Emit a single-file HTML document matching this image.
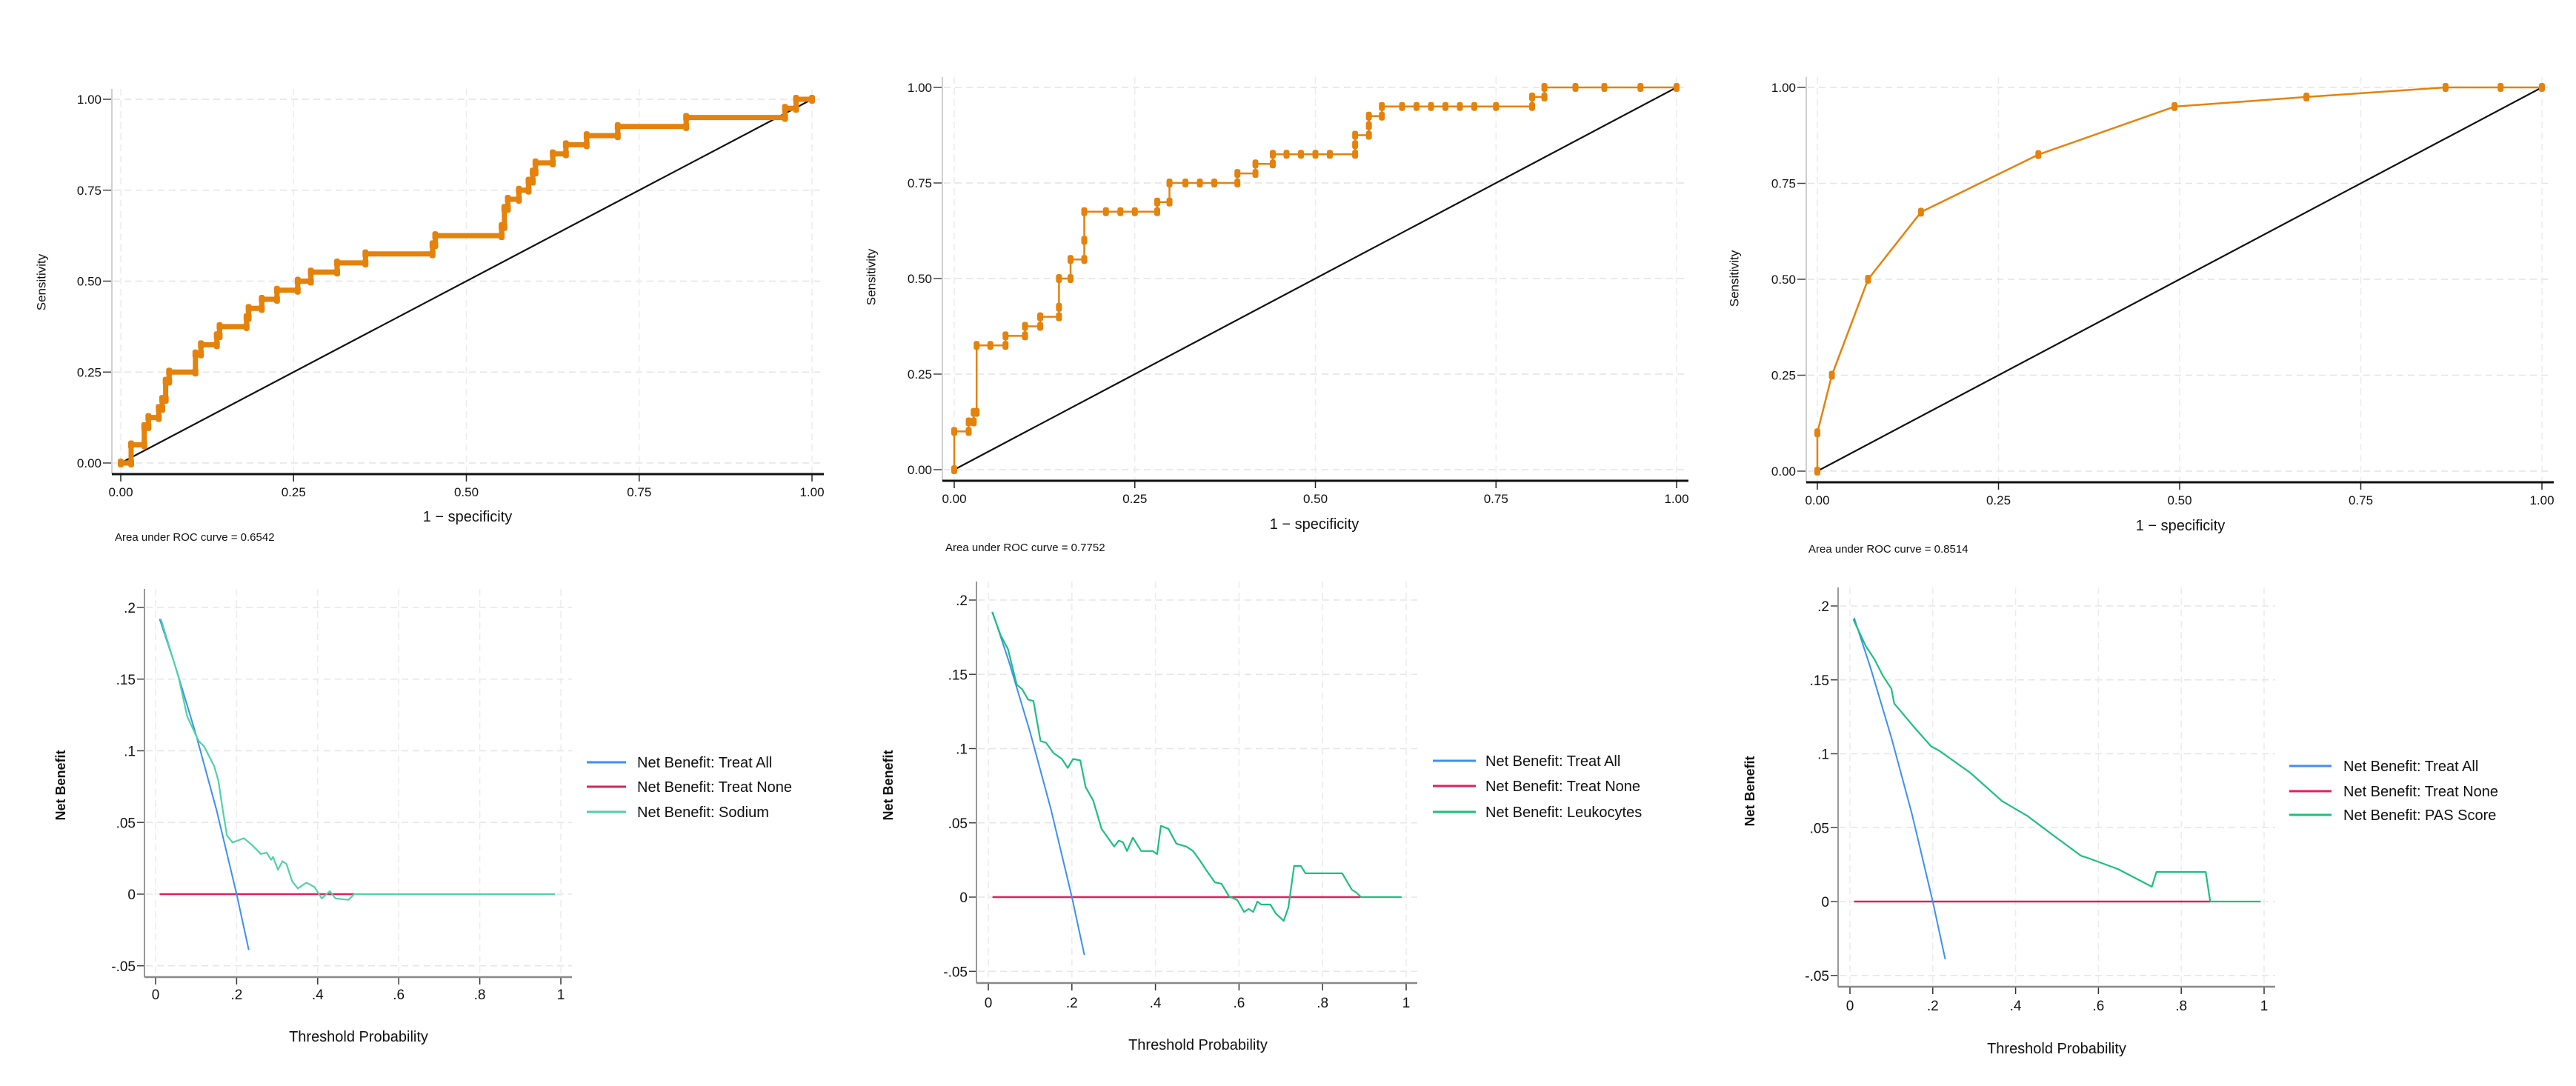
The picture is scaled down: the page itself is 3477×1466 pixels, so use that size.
<!DOCTYPE html>
<html><head><meta charset="utf-8">
<style>
html,body{margin:0;padding:0;background:#fff;}
svg{display:block;font-family:"Liberation Sans",sans-serif;}
</style></head>
<body>
<svg id="fig" width="3477" height="1466" viewBox="0 0 3477 1466" xmlns="http://www.w3.org/2000/svg"></svg>
<script>
// ---------- ROC data ----------
const roc1Fpr = [0,0.015,0.015,0.034,0.034,0.04,0.04,0.055,0.055,0.06,0.06,0.065,0.065,0.07,0.07,0.108,0.108,0.116,0.116,0.139,0.139,0.143,0.143,0.182,0.182,0.185,0.185,0.204,0.204,0.226,0.226,0.256,0.256,0.275,0.275,0.313,0.313,0.354,0.354,0.451,0.451,0.455,0.455,0.551,0.551,0.555,0.555,0.56,0.56,0.576,0.576,0.59,0.59,0.596,0.596,0.6,0.6,0.625,0.625,0.644,0.644,0.674,0.674,0.719,0.719,0.818,0.818,0.961,0.961,0.977,0.977,1];
const roc1Tpr = [0,0,0.05,0.05,0.1,0.1,0.125,0.125,0.15,0.15,0.175,0.175,0.225,0.225,0.25,0.25,0.3,0.3,0.325,0.325,0.35,0.35,0.375,0.375,0.4,0.4,0.425,0.425,0.45,0.45,0.475,0.475,0.5,0.5,0.525,0.525,0.55,0.55,0.575,0.575,0.6,0.6,0.625,0.625,0.65,0.65,0.7,0.7,0.725,0.725,0.75,0.75,0.775,0.775,0.8,0.8,0.825,0.825,0.85,0.85,0.875,0.875,0.9,0.9,0.925,0.925,0.95,0.95,0.975,0.975,1,1];
const roc2Fpr = [0,0,0.02,0.02,0.027,0.027,0.031,0.031,0.05,0.071,0.071,0.098,0.098,0.119,0.119,0.145,0.145,0.145,0.161,0.161,0.18,0.18,0.18,0.21,0.23,0.25,0.281,0.281,0.298,0.298,0.32,0.34,0.36,0.392,0.392,0.417,0.417,0.441,0.441,0.46,0.48,0.5,0.52,0.555,0.555,0.555,0.574,0.574,0.574,0.592,0.592,0.62,0.64,0.66,0.68,0.7,0.72,0.75,0.8,0.8,0.817,0.817,0.86,0.9,0.95,1];
const roc2Tpr = [0,0.1,0.1,0.125,0.125,0.15,0.15,0.325,0.325,0.325,0.35,0.35,0.375,0.375,0.4,0.4,0.425,0.5,0.5,0.55,0.55,0.6,0.675,0.675,0.675,0.675,0.675,0.7,0.7,0.75,0.75,0.75,0.75,0.75,0.775,0.775,0.8,0.8,0.825,0.825,0.825,0.825,0.825,0.825,0.85,0.875,0.875,0.9,0.925,0.925,0.95,0.95,0.95,0.95,0.95,0.95,0.95,0.95,0.95,0.975,0.975,1,1,1,1,1];
const roc3Fpr = [0,0,0.02,0.07,0.143,0.305,0.493,0.675,0.867,0.943,1];
const roc3Tpr = [0,0.1,0.25,0.5,0.675,0.825,0.95,0.975,1,1,1];
const rocTickLabels = ["0.00","0.25","0.50","0.75","1.00"];
const rocTickValues = [0,0.25,0.5,0.75,1];
const aucLabels = ["Area under ROC curve = 0.6542","Area under ROC curve = 0.7752","Area under ROC curve = 0.8514"];

// ---------- DCA data ----------
const treatAllT = [0.01,0.05,0.1,0.15,0.2,0.23];
const treatAllNB = [0.192,0.158,0.111,0.059,0,-0.039];
const treatNoneEnd = [0.49,0.89,0.87];
const dca1T = [0.013,0.057,0.078,0.106,0.12,0.145,0.155,0.165,0.176,0.19,0.218,0.239,0.26,0.274,0.285,0.29,0.302,0.313,0.323,0.337,0.351,0.372,0.392,0.41,0.43,0.444,0.476,0.49,0.986];
const dca1NB = [0.192,0.151,0.124,0.107,0.103,0.089,0.079,0.06,0.041,0.036,0.039,0.034,0.028,0.029,0.024,0.026,0.017,0.023,0.021,0.009,0.004,0.008,0.005,-0.003,0.002,-0.003,-0.004,0,0];
const dca2T = [0.009,0.03,0.047,0.068,0.081,0.095,0.108,0.125,0.138,0.156,0.176,0.19,0.203,0.22,0.233,0.251,0.271,0.301,0.312,0.322,0.332,0.346,0.366,0.393,0.404,0.413,0.431,0.45,0.474,0.49,0.508,0.522,0.542,0.558,0.576,0.596,0.612,0.623,0.634,0.644,0.653,0.675,0.688,0.707,0.718,0.732,0.748,0.759,0.847,0.87,0.881,0.892,0.989];
const dca2NB = [0.192,0.176,0.167,0.143,0.14,0.133,0.132,0.105,0.104,0.097,0.093,0.087,0.093,0.092,0.074,0.065,0.046,0.034,0.038,0.037,0.031,0.04,0.031,0.031,0.029,0.048,0.046,0.036,0.034,0.031,0.024,0.018,0.01,0.009,0.0005,-0.002,-0.01,-0.008,-0.01,-0.003,-0.005,-0.005,-0.011,-0.016,-0.007,0.021,0.021,0.016,0.016,0.005,0.003,0,0];
const dca3T = [0.008,0.038,0.059,0.079,0.1,0.107,0.155,0.196,0.216,0.291,0.367,0.428,0.49,0.558,0.579,0.647,0.729,0.74,0.859,0.87,0.992];
const dca3NB = [0.191,0.173,0.164,0.153,0.144,0.134,0.118,0.105,0.102,0.087,0.068,0.058,0.045,0.031,0.029,0.022,0.01,0.02,0.02,0,0];
const dcaXTickValues = [0,0.2,0.4,0.6,0.8,1];
const dcaXTickLabels = ["0",".2",".4",".6",".8","1"];
const dcaYTickValues = [0.2,0.15,0.1,0.05,0,-0.05];
const dcaYTickLabels = [".2",".15",".1",".05","0","-.05"];
const modelNames = ["Sodium","Leukocytes","PAS Score"];

const NS = "http://www.w3.org/2000/svg";
const svg = document.getElementById('fig');
function mk(tag, attrs, parent, text){
  const e = document.createElementNS(NS, tag);
  for (const k in attrs) e.setAttribute(k, attrs[k]);
  if (text !== undefined) e.textContent = text;
  (parent||svg).appendChild(e);
  return e;
}
const ORANGE = "#e4820c";

// ---------- ROC panels ----------
const rocLayout = [
  {x0:163,x1:1096,y0:625,y1:134,ax:151,ab:640,xt:631,xty:697,ytx:57,yty:381,aucx:155,aucy:725,fpr:roc1Fpr,tpr:roc1Tpr,dense:true},
  {x0:1288,x1:2263,y0:634,y1:118,ax:1272,ab:649,xt:1774,xty:707,ytx:1177,yty:374,aucx:1276,aucy:739,fpr:roc2Fpr,tpr:roc2Tpr,dense:false},
  {x0:2453,x1:3431,y0:636,y1:118,ax:2438,ab:651,xt:2943,xty:709,ytx:2342,yty:376,aucx:2441,aucy:741,fpr:roc3Fpr,tpr:roc3Tpr,dense:false}
];
rocLayout.forEach((L,i)=>{
  const g = mk('g',{});
  
  
  const sx = v => L.x0 + v*(L.x1-L.x0);
  const sy = v => L.y0 + v*(L.y1-L.y0);
  const top = L.y1-14, right = L.x1+12;
  // grid
  rocTickValues.forEach((v,k)=>{
    const gl = mk('line',{x1:L.ax+2,x2:right,y1:sy(v),y2:sy(v),stroke:'#e4e4e4','stroke-width':1.5,'stroke-dasharray':'9 6'},g);
    
    
    const vl = mk('line',{x1:sx(v),x2:sx(v),y1:top,y2:L.ab,stroke:'#ececec','stroke-width':1.5,'stroke-dasharray':'9 6'},g);
    
    
    const yt = mk('line',{x1:L.ax-12,x2:L.ax,y1:sy(v),y2:sy(v),stroke:'#444','stroke-width':1.5},g);
    
    
    const xt = mk('line',{x1:sx(v),x2:sx(v),y1:L.ab,y2:L.ab+10,stroke:'#222','stroke-width':1.5},g);
    
    
    const yl = mk('text',{x:L.ax-14,y:sy(v)+6,'text-anchor':'end','font-size':17,fill:'#111'},g,rocTickLabels[k]);
    
    
    const xl = mk('text',{x:sx(v),y:L.ab+30,'text-anchor':'middle','font-size':17,fill:'#111'},g,rocTickLabels[k]);
    
    
  });
  const la = mk('line',{x1:L.ax,x2:L.ax,y1:top,y2:L.ab,stroke:'#cfcfcf','stroke-width':2},g);
  
  
  const ba = mk('line',{x1:L.ax,x2:right+4,y1:L.ab,y2:L.ab,stroke:'#111','stroke-width':3},g);
  
  
  // diagonal
  const dg = mk('line',{x1:sx(0),y1:sy(0),x2:sx(1),y2:sy(1),stroke:'#111','stroke-width':2.2},g);
  
  
  // curve
  const pts = L.fpr.map((f,k)=>sx(f).toFixed(1)+','+sy(L.tpr[k]).toFixed(1)).join(' ');
  const pl = mk('polyline',{points:pts,fill:'none',stroke:ORANGE,'stroke-width':L.dense?7:2.5,'stroke-linejoin':'round'},g);
  
  
  L.fpr.forEach((f,k)=>{
    const c = mk('rect',{x:sx(f)-4,y:sy(L.tpr[k])-6,width:8,height:12,rx:3,fill:ORANGE},g);
    
    
  });
  const xtl = mk('text',{x:L.xt,y:L.xty+7,'text-anchor':'middle','font-size':20,fill:'#111'},g,'1 \u2212 specificity');
  
  
  const ytl = mk('text',{x:L.ytx,y:L.yty,'text-anchor':'middle','font-size':17,fill:'#111',transform:`rotate(-90 ${L.ytx} ${L.yty})`,'dominant-baseline':'middle'},g,'Sensitivity');
  
  
  const au = mk('text',{x:L.aucx,y:L.aucy+5,'font-size':15,fill:'#111'},g,aucLabels[i]);
  
  
});

// ---------- DCA panels ----------
const dcaLayout = [
  {x0:210,x1:757,yTop:820,yZero:1207,ax:195,ab:1319,lab:1341,xt:484,xty:1399,ytx:83,yty:1060,lx1:792,lx2:845,ltx:860,ly:[1029,1062,1096],t:dca1T,nb:dca1NB,green:'#4fd3a4'},
  {x0:1334,x1:1898,yTop:810,yZero:1211,ax:1318,ab:1327,lab:1352,xt:1617,xty:1410,ytx:1200,yty:1060,lx1:1934,lx2:1992,ltx:2005,ly:[1027,1061,1096],t:dca2T,nb:dca2NB,green:'#1cc07e'},
  {x0:2497,x1:3056,yTop:818,yZero:1217,ax:2481,ab:1332,lab:1356,xt:2776,xty:1415,ytx:2363,yty:1068,lx1:3090,lx2:3147,ltx:3163,ly:[1034,1068,1100],t:dca3T,nb:dca3NB,green:'#1cc07e'}
];
const BLUE='#3d8ff2', RED='#e0205e';
dcaLayout.forEach((L,i)=>{
  const g = mk('g',{});
  
  
  const sx = v => L.x0 + v*(L.x1-L.x0);
  const sy = v => L.yZero + (v/0.2)*(L.yTop-L.yZero);
  const top = L.yTop-25, right = L.x1+15;
  dcaYTickValues.forEach((v,k)=>{
    const gl = mk('line',{x1:L.ax+2,x2:right,y1:sy(v),y2:sy(v),stroke:'#e6e6e6','stroke-width':1.5,'stroke-dasharray':'9 6'},g);
    
    
    const yt = mk('line',{x1:L.ax-10,x2:L.ax,y1:sy(v),y2:sy(v),stroke:'#444','stroke-width':1.5},g);
    
    
    const yl = mk('text',{x:L.ax-12,y:sy(v)+7,'text-anchor':'end','font-size':19,fill:'#111'},g,dcaYTickLabels[k]);
    
    
  });
  dcaXTickValues.forEach((v,k)=>{
    const vl = mk('line',{x1:sx(v),x2:sx(v),y1:top,y2:L.ab,stroke:'#ececec','stroke-width':1.5,'stroke-dasharray':'9 6'},g);
    
    
    const xt = mk('line',{x1:sx(v),x2:sx(v),y1:L.ab,y2:L.ab+10,stroke:'#333','stroke-width':1.5},g);
    
    
    const xl = mk('text',{x:sx(v),y:L.lab+8,'text-anchor':'middle','font-size':19,fill:'#111'},g,dcaXTickLabels[k]);
    
    
  });
  const la = mk('line',{x1:L.ax,x2:L.ax,y1:top,y2:L.ab,stroke:'#999','stroke-width':2},g);
  
  
  const ba = mk('line',{x1:L.ax,x2:right,y1:L.ab,y2:L.ab,stroke:'#888','stroke-width':2.5},g);
  
  
  // treat none
  const tn = mk('line',{x1:sx(0.01),x2:sx(treatNoneEnd[i]),y1:sy(0),y2:sy(0),stroke:RED,'stroke-width':2.5},g);
  
  
  // treat all
  const ta = mk('polyline',{points:treatAllT.map((t,k)=>sx(t).toFixed(1)+','+sy(treatAllNB[k]).toFixed(1)).join(' '),fill:'none',stroke:BLUE,'stroke-width':2},g);
  
  
  // model
  const md = mk('polyline',{points:L.t.map((t,k)=>sx(t).toFixed(1)+','+sy(L.nb[k]).toFixed(1)).join(' '),fill:'none',stroke:L.green,'stroke-width':2.2,'stroke-linejoin':'round'},g);
  
  
  const xtl = mk('text',{x:L.xt,y:L.xty+7,'text-anchor':'middle','font-size':20,fill:'#111'},g,'Threshold Probability');
  
  
  const ytl = mk('text',{x:L.ytx,y:L.yty,'text-anchor':'middle','font-size':18,'font-weight':'bold',fill:'#111',transform:`rotate(-90 ${L.ytx} ${L.yty})`,'dominant-baseline':'middle'},g,'Net Benefit');
  
  
  const names = ['Net Benefit: Treat All','Net Benefit: Treat None','Net Benefit: '+modelNames[i]];
  const cols = [BLUE,RED,L.green];
  names.forEach((n,k)=>{
    const lg = mk('g',{},g);
    
    
    mk('line',{x1:L.lx1,x2:L.lx2,y1:L.ly[k],y2:L.ly[k],stroke:cols[k],'stroke-width':3},lg);
    mk('text',{x:L.ltx,y:L.ly[k]+7,'font-size':20,fill:'#111'},lg,n);
  });
});
</script>
</body></html>
